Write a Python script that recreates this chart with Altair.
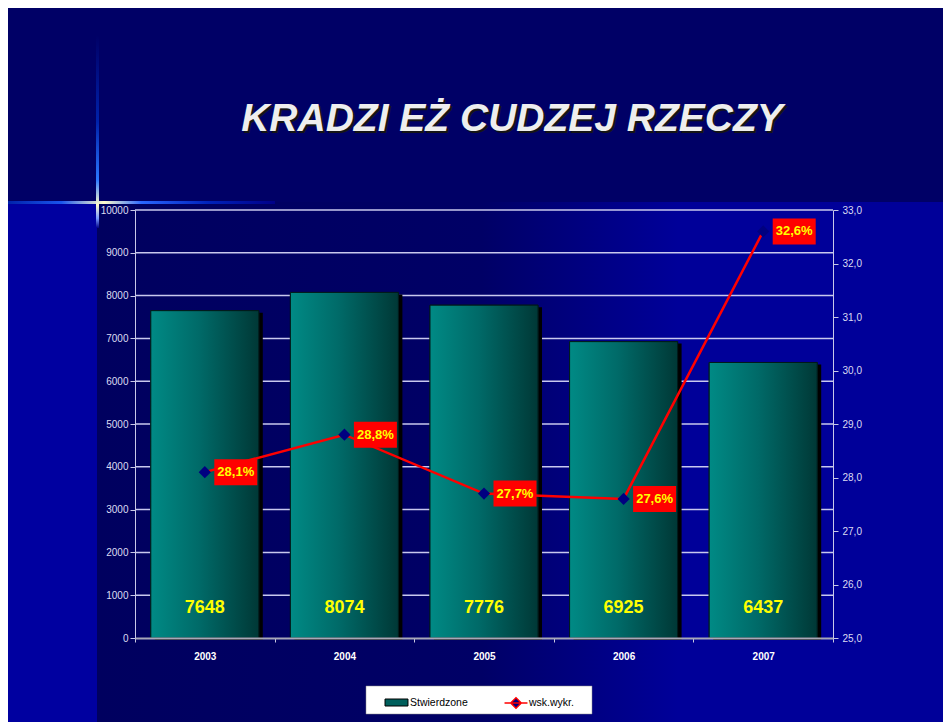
import altair as alt
import pandas as pd

# ---------------- data ----------------
years = ["2003", "2004", "2005", "2006", "2007"]
stwierdzone = [7648, 8074, 7776, 6925, 6437]
wsk_wykr = [28.1, 28.8, 27.7, 27.6, 32.6]
left_ticks = [0, 1000, 2000, 3000, 4000, 5000, 6000, 7000, 8000, 9000, 10000]
right_ticks = [25, 26, 27, 28, 29, 30, 31, 32, 33]
series_names = ["Stwierdzone", "wsk.wykr."]
title_text = "KRADZI EŻ CUDZEJ RZECZY"

df = pd.DataFrame({
    "rok": years,
    "stw": stwierdzone,
    "wsk": wsk_wykr,
    "s1": series_names[0],
    "s2": series_names[1],
})
df["stw_lbl"] = df["stw"].astype(str)
df["wsk_lbl"] = [f"{v:.1f}".replace(".", ",") + "%" for v in wsk_wykr]
grid_df = pd.DataFrame({"v": left_ticks[1:]})

W, H = 698, 428
FONT = "Liberation Sans"

one = alt.Data(values=[{"k": 1}])

def grad(stops, horizontal=True):
    return alt.LinearGradient(
        gradient="linear",
        stops=[alt.GradientStop(color=c, offset=o) for o, c in stops],
        x1=0, x2=1 if horizontal else 0, y1=0, y2=0 if horizontal else 1,
    )

# ---------------- decorative slide background ----------------
top_band = alt.Chart(one).mark_rect(color="#000066").encode(
    x=alt.value(-127), x2=alt.value(816), y=alt.value(-202), y2=alt.value(-8))
panel = alt.Chart(one).mark_rect(
    fill=grad([(0, "#00005f"), (0.45, "#000066"), (0.68, "#000099"), (1, "#000099")])
).encode(x=alt.value(-38), x2=alt.value(816), y=alt.value(-8), y2=alt.value(512))
h_streak = alt.Chart(one).mark_rect(
    fill=grad([(0, "#0022aa"), (0.2, "#1a55ee"), (0.36, "#fffccc"), (0.5, "#2a66ff"),
               (0.75, "#0022bb"), (1, "#000088")])
).encode(x=alt.value(-127), x2=alt.value(140), y=alt.value(-9), y2=alt.value(-6))
v_streak = alt.Chart(one).mark_rect(
    fill=grad([(0, "#000066"), (0.45, "#0022aa"), (0.75, "#2a77ff"), (0.88, "#fffccc"),
               (0.95, "#7799ff"), (1, "#000088")], horizontal=False)
).encode(x=alt.value(-39), x2=alt.value(-36), y=alt.value(-175), y2=alt.value(18))

title_shadow = alt.Chart(one).mark_text(
    text=title_text, font=FONT, fontSize=39, fontWeight="bold", fontStyle="italic",
    color="#151515", align="center", baseline="middle"
).encode(x=alt.value(379), y=alt.value(-89))
title_main = alt.Chart(one).mark_text(
    text=title_text, font=FONT, fontSize=39, fontWeight="bold", fontStyle="italic",
    color="#eeeeee", align="center", baseline="middle"
).encode(x=alt.value(377), y=alt.value(-91))

legend_box = alt.Chart(one).mark_rect(color="white", stroke="#888888", strokeWidth=0.5).encode(
    x=alt.value(231), x2=alt.value(457), y=alt.value(476), y2=alt.value(504))

# ---------------- data layers ----------------
xenc = alt.X("rok:N", scale=alt.Scale(paddingInner=0, paddingOuter=0),
             axis=alt.Axis(title=None, labelColor="white", labelFont=FONT, labelFontSize=10,
                           labelFontWeight="bold", labelAngle=0, labelPadding=9,
                           domainColor="#a8a8b8", domainWidth=2, tickColor="#c8c8e0",
                           tickSize=4, tickBand="extent", zindex=1))
yleft_scale = alt.Scale(domain=[0, 10000], nice=False)
yright_scale = alt.Scale(domain=[25, 33], nice=False)

gridlines = alt.Chart(grid_df).mark_rule(color="#c8c8ee", strokeWidth=1.5).encode(
    y=alt.Y("v:Q", scale=yleft_scale, axis=None))

base = alt.Chart(df)

bar_shadow = base.mark_bar(color="black", width=108, xOffset=4, yOffset=2).encode(
    x=xenc, y=alt.Y("stw:Q", scale=yleft_scale, axis=None))

bar_solid = base.mark_bar(width=108, stroke="#001a1a", strokeWidth=1).encode(
    x=xenc,
    y=alt.Y("stw:Q", scale=yleft_scale,
            axis=alt.Axis(orient="left", title=None, values=left_ticks, grid=False, format="d",
                          labelColor="#dcdcf2", labelFont=FONT, labelFontSize=10,
                          tickColor="#c8c8e8", tickSize=5, domainColor="#c8c8e8",
                          labelPadding=2, zindex=1)),
    fill=alt.Fill("s1:N", scale=alt.Scale(range=["#005f5c"]),
                  legend=alt.Legend(orient="none", legendX=254, legendY=485, title=None,
                                    symbolType="M-1.64,-0.5H1.64V0.5H-1.64Z", symbolSize=196,
                                    symbolStrokeColor="black", symbolStrokeWidth=1,
                                    labelColor="black", labelFont=FONT, labelFontSize=10.5,
                                    labelOffset=6, padding=0)),
)

bar_grad = base.mark_bar(
    width=108, stroke="#001a1a", strokeWidth=1,
    fill=grad([(0, "#008a85"), (0.45, "#006a68"), (1, "#003836")]),
).encode(x=xenc, y=alt.Y("stw:Q", scale=yleft_scale, axis=None))

bar_labels = base.mark_text(font=FONT, fontSize=18, fontWeight="bold", color="#ffff00",
                            baseline="middle").encode(
    x=xenc, y=alt.datum(700, scale=yleft_scale, axis=None), text="stw_lbl:N")

line = base.mark_line(strokeWidth=2.5).encode(
    x=xenc,
    y=alt.Y("wsk:Q", scale=yright_scale,
            axis=alt.Axis(orient="right", title=None, values=right_ticks, grid=False,
                          labelExpr="replace(format(datum.value, '.1f'), '.', ',')",
                          labelColor="#dcdcf2", labelFont=FONT, labelFontSize=10,
                          tickColor="#c8c8e8", tickSize=5, domainColor="#c8c8e8",
                          labelPadding=4, zindex=1)),
    stroke=alt.Stroke("s2:N", scale=alt.Scale(range=["#ff0000"]),
                      legend=alt.Legend(orient="none", legendX=373, legendY=485, title=None,
                                        symbolType="M-1.64,0H1.64M0,-0.75L0.75,0L0,0.75L-0.75,0Z",
                                        symbolSize=196, symbolFillColor="#000080",
                                        symbolStrokeWidth=1.5,
                                        labelColor="black", labelFont=FONT, labelFontSize=10.5,
                                        labelOffset=5, padding=0)),
)

points = base.mark_point(shape="diamond", filled=True, color="#000080", size=150, opacity=1).encode(
    x=xenc, y=alt.Y("wsk:Q", scale=yright_scale, axis=None))

boxes = base.mark_point(shape="M-2.15,-1.3H2.15V1.3H-2.15Z", filled=True, color="#ff0000",
                        size=400, opacity=1, xOffset=31, strokeWidth=0).encode(
    x=xenc, y=alt.Y("wsk:Q", scale=yright_scale, axis=None))

pct_labels = base.mark_text(font=FONT, fontSize=13, fontWeight="bold", color="#ffff00",
                            xOffset=31, align="center", baseline="middle").encode(
    x=xenc, y=alt.Y("wsk:Q", scale=yright_scale, axis=None), text="wsk_lbl:N")

chart = alt.layer(
    top_band, panel, h_streak, v_streak, title_shadow, title_main, legend_box,
    gridlines, bar_shadow, bar_solid, bar_grad, bar_labels,
    line, points, boxes, pct_labels,
).resolve_scale(y="independent").properties(
    width=W, height=H,
    autosize=alt.AutoSizeParams(type="none"),
    padding={"left": 127, "top": 202, "right": 110, "bottom": 84},
    background="#0000a0",
).configure_view(stroke="transparent")

chart.save("out.html", embed_options={"renderer": "svg", "actions": False})
